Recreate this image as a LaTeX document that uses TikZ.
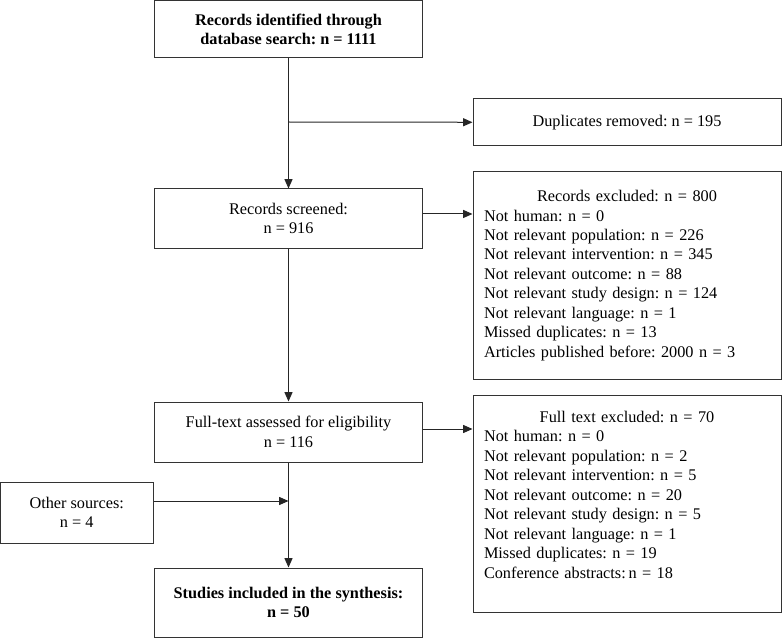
\documentclass[tikz,border=0pt]{standalone}
\usepackage{fontspec}
\setmainfont{Liberation Serif}
\frenchspacing
\usetikzlibrary{arrows.meta}

\tikzset{
  box/.style={draw=black!80, line width=0.75pt, minimum width=201pt, align=center, inner sep=0pt, font=\fontsize{12.2}{14.6}\selectfont},
  sidebox/.style={draw=black!80, line width=0.75pt, text width=214.5pt, inner xsep=8.25pt, inner ysep=0pt, align=left, font=\fontsize{12.2}{14.6}\selectfont},
  link/.style={draw=black!85, line width=0.75pt},
  arr/.style={link, -{Triangle[length=7pt,width=6pt]}},
}

\begin{document}
\begin{tikzpicture}[x=0.75pt, y=-0.75pt] % PRISMA flow
    \useasboundingbox (0,0) rectangle (782,638);
    % main column
    \node[box, minimum height=42.75pt] (ident) at (288.5,29.5) {\textbf{Records identified through}\\ \textbf{database search: n = 1111}};
    \node[box, minimum height=44.25pt] (screen) at (288.5,218.5) {Records screened:\\ n = 916};
    \node[box, minimum height=45pt] (full) at (288.5,432) {Full-text assessed for eligibility\\ n = 116};
    \node[box, minimum height=51.75pt] (studies) at (288.5,602.5) {\textbf{Studies included in the synthesis:}\\ \textbf{n = 50}};
    % side boxes
    \node[box, minimum width=231pt, minimum height=35.25pt] (dup) at (627,122.5) {Duplicates removed: n = 195};
    \node[sidebox, minimum height=155.25pt] (recex) at (627,275.5) {\centerline{Records excluded: n = 800}
        Not human: n = 0\\
        Not relevant population: n = 226\\
        Not relevant intervention: n = 345\\
        Not relevant outcome: n = 88\\
        Not relevant study design: n = 124\\
        Not relevant language: n = 1\\
        Missed duplicates: n = 13\\
        Articles published before: 2000 n = 3};
    \node[sidebox, minimum height=162.75pt] (fullex) at (627,503.5) {\centerline{Full text excluded: n = 70}
        Not human: n = 0\\
        Not relevant population: n = 2\\
        Not relevant intervention: n = 5\\
        Not relevant outcome: n = 20\\
        Not relevant study design: n = 5\\
        Not relevant language: n = 1\\
        Missed duplicates: n = 19\\
        Conference abstracts:\,n = 18\rule[-13.5pt]{0pt}{1pt}};
    \node[box, minimum width=114.4pt, minimum height=45.75pt] (other) at (76.75,512.5) {Other sources:\\ n = 4};
    % connectors
    \coordinate (split) at (288.5,122);
    \coordinate (join) at (288.5,501);
    \draw[arr] (ident) -- (screen);
    \draw[arr] (split) -- (dup);
    \draw[arr] ([yshift=3.4pt]screen.east) -- ([yshift=3.4pt]screen.east -| recex.west);
    \draw[arr] (screen) -- (full);
    \draw[arr] ([yshift=2.25pt]full.east) -- ([yshift=2.25pt]full.east -| fullex.west);
    \draw[arr] (full) -- (studies);
    \draw[arr] (other.east |- join) -- (join);
\end{tikzpicture}
\end{document}
